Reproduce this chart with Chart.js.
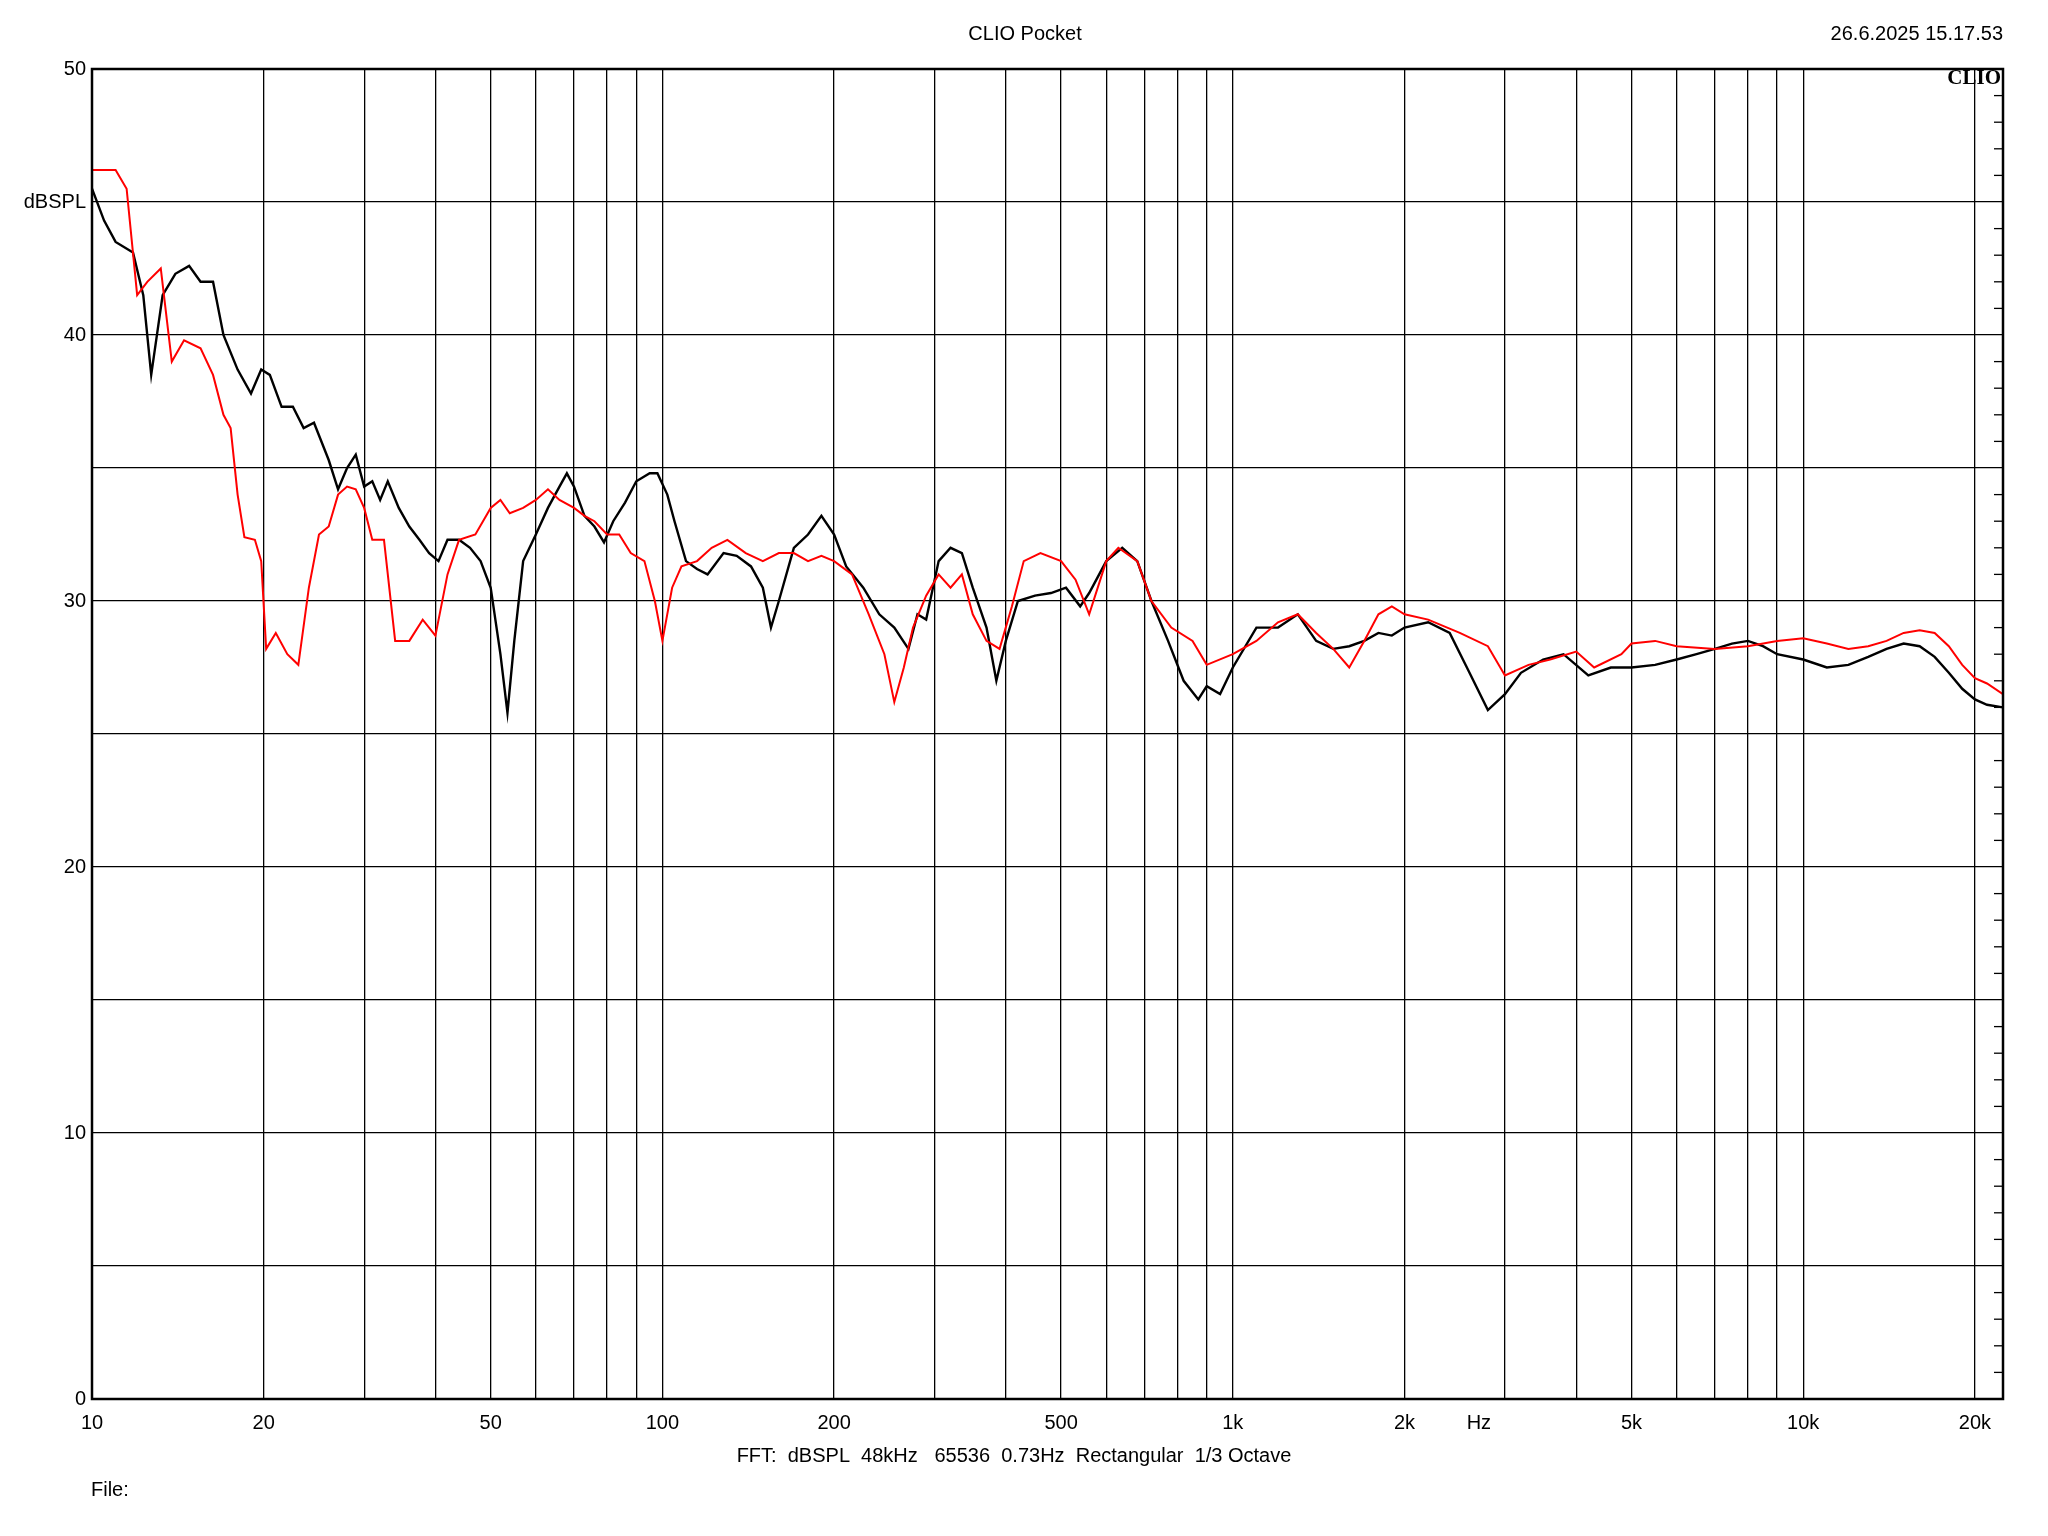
<!DOCTYPE html>
<html><head><meta charset="utf-8">
<script src="https://cdn.jsdelivr.net/npm/chart.js@4"></script>
<style>html,body{margin:0;padding:0;background:#fff}#w{width:2048px;height:1536px}</style>
</head><body><div id="w"><canvas id="c" width="2048" height="1536"></canvas></div>
<script>
const blackFreq=[10,10.5,11,11.8,12.3,12.7,13.3,14,14.8,15.5,16.3,17,18,19,19.8,20.5,21.5,22.5,23.5,24.5,26,27,28,29,30,31,32,33,34.5,36,37.5,39,40.5,42,44,46,48,50,52,53.5,55,57,60,63,66,68,70,73,76,79,82,86,90,95,98,102,105,110,115,120,128,135,143,150,155,160,170,180,190,200,210,225,240,255,270,280,290,305,320,335,350,370,385,400,420,450,480,510,540,560,600,640,680,720,770,820,870,900,950,1000,1100,1200,1300,1400,1500,1600,1700,1800,1900,2000,2200,2400,2600,2800,3000,3200,3500,3800,4200,4600,5000,5500,6000,6500,7000,7500,8000,8500,9000,10000,11000,12000,13000,14000,15000,16000,17000,18000,19000,20000,21000,22400];
const blackDb=[45.5,44.3,43.5,43.1,41.5,38.5,41.5,42.3,42.6,42,42,40,38.7,37.8,38.7,38.5,37.3,37.3,36.5,36.7,35.3,34.2,35,35.5,34.3,34.5,33.8,34.5,33.5,32.8,32.3,31.8,31.5,32.3,32.3,32,31.5,30.5,28,25.8,28.5,31.5,32.5,33.5,34.3,34.8,34.3,33.2,32.8,32.2,33,33.7,34.5,34.8,34.8,34,33,31.5,31.2,31,31.8,31.7,31.3,30.5,29,30,32,32.5,33.2,32.5,31.3,30.5,29.5,29,28.2,29.5,29.3,31.5,32,31.8,30.5,29,27,28.5,30,30.2,30.3,30.5,29.8,30.3,31.5,32,31.5,30,28.5,27,26.3,26.8,26.5,27.5,29,29,29.5,28.5,28.2,28.3,28.5,28.8,28.7,29,29.2,28.8,27.3,25.9,26.5,27.3,27.8,28,27.2,27.5,27.5,27.6,27.8,28,28.2,28.4,28.5,28.3,28,27.8,27.5,27.6,27.9,28.2,28.4,28.3,27.9,27.3,26.7,26.3,26.1,26];
const redFreq=[10,11,11.5,12,12.5,13.2,13.8,14.5,15.5,16.3,17,17.5,18,18.5,19.3,19.8,20.2,21,22,23,24,25,26,27,28,29,30,31,32.5,34,36,38,40,42,44,47,50,52,54,57,60,63,66,70,73,76,80,84,88,93,97,100,104,108,115,122,130,140,150,160,170,180,190,200,215,230,245,255,265,275,290,305,320,335,350,370,390,410,430,460,500,530,560,600,630,680,720,780,850,900,1000,1100,1200,1300,1400,1500,1600,1700,1800,1900,2000,2200,2500,2800,3000,3300,3600,4000,4300,4800,5000,5500,6000,7000,8000,9000,10000,11000,12000,13000,14000,15000,16000,17000,18000,19000,20000,21000,22400];
const redDb=[46.2,46.2,45.5,41.5,42,42.5,39,39.8,39.5,38.5,37,36.5,34,32.4,32.3,31.5,28.2,28.8,28,27.6,30.5,32.5,32.8,34,34.3,34.2,33.5,32.3,32.3,28.5,28.5,29.3,28.7,31,32.3,32.5,33.5,33.8,33.3,33.5,33.8,34.2,33.8,33.5,33.2,33,32.5,32.5,31.8,31.5,30,28.5,30.5,31.3,31.5,32,32.3,31.8,31.5,31.8,31.8,31.5,31.7,31.5,31,29.5,28,26.2,27.5,29,30.2,31,30.5,31,29.5,28.5,28.2,29.8,31.5,31.8,31.5,30.8,29.5,31.5,32,31.5,30,29,28.5,27.6,28,28.5,29.2,29.5,28.8,28.2,27.5,28.5,29.5,29.8,29.5,29.3,28.8,28.3,27.2,27.6,27.8,28.1,27.5,28,28.4,28.5,28.3,28.2,28.3,28.5,28.6,28.4,28.2,28.3,28.5,28.8,28.9,28.8,28.3,27.6,27.1,26.9,26.5];
const xGrid=[10,20,30,40,50,60,70,80,90,100,200,300,400,500,600,700,800,900,1000,2000,3000,4000,5000,6000,7000,8000,9000,10000,20000];
const xLabels={10:'10',20:'20',50:'50',100:'100',200:'200',500:'500',1000:'1k',2000:'2k',2700:'Hz',5000:'5k',10000:'10k',20000:'20k'};
const yLabels={0:'0',10:'10',20:'20',30:'30',40:'40',45:'dBSPL',50:'50'};
const FONT='"Liberation Sans", Arial, sans-serif';
const deco={id:'deco',afterDraw(ch){
  const c=ch.ctx,a=ch.chartArea,y=ch.scales.y;
  c.save();c.strokeStyle='#000';c.lineWidth=2.5;c.strokeRect(a.left,a.top,a.right-a.left,a.bottom-a.top);
  c.lineWidth=1.3;
  for(let v=1;v<50;v++){if(v%5===0)continue;const p=y.getPixelForValue(v);c.beginPath();c.moveTo(a.right-9,p);c.lineTo(a.right,p);c.stroke();}
  c.fillStyle='#000';c.font='20px '+FONT;c.textAlign='center';c.textBaseline='middle';
  c.fillText('CLIO Pocket',1025,34);
  c.textAlign='right';c.fillText('26.6.2025 15.17.53',2003,34);
  c.textAlign='center';c.fillText('FFT:  dBSPL  48kHz   65536  0.73Hz  Rectangular  1/3 Octave',1014,1456);
  c.textAlign='left';c.fillText('File:',91,1490);
  c.font='bold 21px "Liberation Serif", serif';c.textAlign='right';c.fillText('CLIO',2001,79);
  c.restore();}};
new Chart(document.getElementById('c'),{type:'line',
 data:{datasets:[
  {data:redFreq.map((f,i)=>({x:f,y:redDb[i]})),borderColor:'#ff0000',borderWidth:2,pointRadius:0,tension:0},
  {data:blackFreq.map((f,i)=>({x:f,y:blackDb[i]})),borderColor:'#000',borderWidth:2.4,pointRadius:0,tension:0}]},
 options:{responsive:false,animation:false,layout:{padding:{top:69,right:45,left:0,bottom:0}},
  plugins:{legend:{display:false},tooltip:{enabled:false}},
  scales:{
   x:{type:'logarithmic',min:10,max:22400,
    afterBuildTicks:s=>{s.ticks=xGrid.concat([2700]).sort((a,b)=>a-b).map(v=>({value:v}));},
    afterFit:s=>{s.height=137;},
    grid:{color:c=>c.tick&&c.tick.value===2700?'rgba(0,0,0,0)':'#000',lineWidth:1.3,drawTicks:false},border:{display:false},
    ticks:{autoSkip:false,maxRotation:0,padding:12,color:'#000',font:{family:FONT,size:20},callback:v=>xLabels[v]||''}},
   y:{min:0,max:50,afterBuildTicks:s=>{s.ticks=[0,5,10,15,20,25,30,35,40,45,50].map(v=>({value:v}));},
    afterFit:s=>{s.width=92;},
    grid:{color:'#000',lineWidth:1.3,drawTicks:false},border:{display:false},
    ticks:{padding:6,color:'#000',font:{family:FONT,size:20},callback:v=>yLabels[v]||''}}}},
 plugins:[deco]});
</script></body></html>
